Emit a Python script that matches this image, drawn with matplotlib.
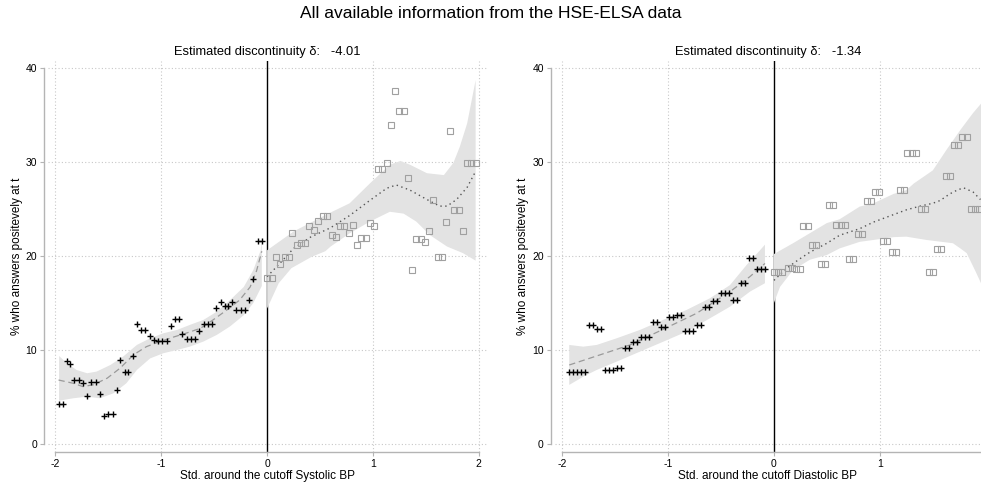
import matplotlib
matplotlib.use("Agg")
import matplotlib.pyplot as plt
import numpy as np

plt.rcParams['font.family'] = ['Liberation Sans', 'DejaVu Sans']

# ---- Systolic BP: binned shares below / above the cutoff
sys_x_below = [-1.97, -1.93, -1.89, -1.86, -1.82, -1.78, -1.74, -1.70, -1.66, -1.62,
               -1.58, -1.54, -1.50, -1.46, -1.42, -1.39, -1.34, -1.31, -1.27, -1.23,
               -1.19, -1.15, -1.11, -1.07, -1.03, -0.99, -0.95, -0.91, -0.87, -0.83,
               -0.80, -0.76, -0.72, -0.68, -0.64, -0.60, -0.56, -0.52, -0.48, -0.44,
               -0.40, -0.37, -0.33, -0.29, -0.25, -0.21, -0.17, -0.13, -0.09, -0.05]
sys_y_below = [4.3, 4.3, 8.8, 8.5, 6.8, 6.8, 6.5, 5.1, 6.6, 6.6,
               5.3, 3.0, 3.15, 3.15, 5.7, 8.9, 7.7, 7.7, 9.4, 12.8,
               12.1, 12.1, 11.5, 11.1, 11.0, 11.0, 11.0, 12.5, 13.3, 13.3,
               11.7, 11.2, 11.2, 11.2, 12.0, 12.8, 12.8, 12.8, 14.5, 15.1,
               14.7, 14.7, 15.1, 14.2, 14.2, 14.2, 15.3, 17.5, 21.6, 21.6]
sys_x_above = [0.00, 0.045, 0.08, 0.12, 0.17, 0.21, 0.24, 0.28, 0.32, 0.36,
               0.40, 0.445, 0.485, 0.53, 0.57, 0.61, 0.65, 0.69, 0.73, 0.77,
               0.81, 0.85, 0.89, 0.93, 0.97, 1.01, 1.05, 1.09, 1.13, 1.17,
               1.21, 1.25, 1.29, 1.33, 1.37, 1.41, 1.45, 1.49, 1.53, 1.57,
               1.61, 1.65, 1.69, 1.73, 1.77, 1.81, 1.85, 1.89, 1.93, 1.97]
sys_y_above = [17.6, 17.6, 19.9, 19.1, 19.9, 19.9, 22.4, 21.2, 21.4, 21.4,
               23.2, 22.8, 23.7, 24.2, 24.2, 22.2, 22.0, 23.2, 23.2, 22.4,
               23.3, 21.2, 21.9, 21.9, 23.5, 23.2, 29.2, 29.2, 29.9, 33.9,
               37.5, 35.4, 35.4, 28.3, 18.5, 21.8, 21.8, 21.45, 22.6, 26.0,
               19.9, 19.9, 23.65, 33.3, 24.9, 24.9, 22.7, 29.9, 29.9, 29.9]

# local polynomial fits and 95% bands (Systolic)
sys_fit_below_x = [-1.97, -1.83, -1.74, -1.64, -1.51, -1.39, -1.26, -1.14, -1.01, -0.89,
                   -0.76, -0.63, -0.51, -0.38, -0.26, -0.16, -0.10, -0.05]
sys_fit_below_y = [6.8, 6.45, 6.1, 6.3, 7.0, 8.05, 9.5, 10.35, 10.9, 11.35,
                   11.8, 12.3, 13.2, 14.25, 15.3, 16.7, 18.4, 20.5]
sys_hi_below_x = [-1.965, -1.89, -1.80, -1.70, -1.61, -1.48, -1.36, -1.23, -1.105, -0.98,
                  -0.85, -0.73, -0.60, -0.475, -0.35, -0.22, -0.13, -0.06, -0.05]
sys_hi_below_y = [9.36, 8.58, 7.87, 7.52, 7.7, 8.4, 9.29, 10.53, 11.24, 11.77,
                  12.13, 12.66, 13.2, 14.07, 15.3, 16.7, 18.5, 20.6, 21.8]
sys_lo_below_x = [-1.965, -1.83, -1.70, -1.58, -1.45, -1.33, -1.23, -1.105, -0.98, -0.85,
                  -0.73, -0.60, -0.475, -0.35, -0.22, -0.13, -0.05]
sys_lo_below_y = [4.6, 4.86, 5.03, 4.86, 5.39, 6.45, 7.87, 9.1, 9.65, 10.0,
                  10.35, 10.9, 11.6, 12.5, 13.7, 15.0, 16.8]

sys_fit_above_x = [0.0, 0.12, 0.25, 0.41, 0.60, 0.78, 0.97, 1.13, 1.22, 1.35,
                   1.51, 1.63, 1.70, 1.79, 1.89, 1.97]
sys_fit_above_y = [17.8, 19.2, 20.8, 22.0, 23.0, 24.3, 25.9, 27.2, 27.55, 27.0,
                   26.0, 25.3, 25.3, 26.0, 27.3, 29.0]
sys_hi_above_x = [0.0, 0.25, 0.56, 0.78, 0.97, 1.16, 1.26, 1.35, 1.51, 1.67,
                  1.76, 1.82, 1.89, 1.97]
sys_hi_above_y = [20.6, 22.6, 24.4, 25.6, 27.7, 29.7, 30.1, 29.7, 28.8, 28.6,
                  29.9, 31.6, 34.1, 38.7]
sys_lo_above_x = [0.0, 0.11, 0.23, 0.42, 0.55, 0.60, 0.78, 0.97, 1.16, 1.29,
                  1.41, 1.54, 1.70, 1.85, 1.97]
sys_lo_above_y = [14.4, 17.1, 18.7, 19.9, 20.5, 21.0, 22.4, 23.65, 24.7, 24.5,
                  23.65, 22.2, 21.0, 20.3, 19.5]

# ---- Diastolic BP
dia_x_below = [-1.933, -1.895, -1.857, -1.820, -1.782, -1.744, -1.706, -1.668, -1.631, -1.593,
               -1.555, -1.517, -1.480, -1.442, -1.404, -1.366, -1.328, -1.291, -1.253, -1.215,
               -1.177, -1.139, -1.102, -1.064, -1.026, -0.988, -0.950, -0.913, -0.875, -0.837,
               -0.799, -0.761, -0.723, -0.686, -0.648, -0.610, -0.572, -0.534, -0.497, -0.459,
               -0.421, -0.383, -0.345, -0.308, -0.270, -0.232, -0.194, -0.156, -0.119, -0.081]
dia_y_below = [7.7, 7.7, 7.7, 7.7, 7.7, 12.7, 12.7, 12.2, 12.2, 7.85,
               7.85, 7.85, 8.05, 8.05, 10.2, 10.2, 10.8, 10.8, 11.4, 11.4,
               11.4, 12.95, 12.95, 12.4, 12.4, 13.5, 13.5, 13.7, 13.7, 12.05,
               12.05, 12.05, 12.7, 12.7, 14.6, 14.6, 15.2, 15.2, 16.1, 16.1,
               16.1, 15.3, 15.3, 17.1, 17.1, 19.8, 19.8, 18.6, 18.6, 18.6]
dia_x_above = [0.00, 0.04, 0.08, 0.13, 0.167, 0.21, 0.245, 0.277, 0.318, 0.356,
               0.397, 0.44, 0.48, 0.52, 0.56, 0.59, 0.63, 0.67, 0.71, 0.75,
               0.79, 0.83, 0.875, 0.916, 0.95, 0.99, 1.03, 1.07, 1.11, 1.15,
               1.19, 1.23, 1.26, 1.30, 1.34, 1.39, 1.43, 1.46, 1.50, 1.54,
               1.58, 1.62, 1.66, 1.70, 1.74, 1.78, 1.82, 1.86, 1.90, 1.94]
dia_y_above = [18.27, 18.27, 18.27, 18.7, 18.7, 18.6, 18.6, 23.2, 23.2, 21.2,
               21.2, 19.1, 19.1, 25.4, 25.4, 23.3, 23.3, 23.3, 19.65, 19.65,
               22.3, 22.3, 25.8, 25.8, 26.8, 26.8, 21.6, 21.6, 20.4, 20.4,
               27.0, 27.0, 31.0, 31.0, 31.0, 25.0, 25.0, 18.3, 18.3, 20.7,
               20.7, 28.5, 28.5, 31.8, 31.8, 32.6, 32.6, 25.0, 25.0, 25.0]

dia_fit_below_x = [-1.933, -1.674, -1.36, -1.045, -0.73, -0.415, -0.227, -0.085]
dia_fit_below_y = [8.4, 9.36, 10.53, 12.2, 13.9, 16.2, 17.8, 19.2]
dia_hi_below_x = [-1.933, -1.80, -1.674, -1.485, -1.265, -1.045, -0.824, -0.604, -0.415,
                  -0.258, -0.132, -0.085]
dia_hi_below_y = [10.53, 10.35, 10.53, 11.24, 12.13, 13.2, 14.26, 15.5, 16.9,
                  19.04, 20.6, 21.2]
dia_lo_below_x = [-1.933, -1.80, -1.674, -1.485, -1.265, -1.045, -0.824, -0.604, -0.415,
                  -0.227, -0.085]
dia_lo_below_y = [6.28, 7.16, 7.87, 8.76, 9.82, 10.88, 11.95, 13.37, 14.6,
                  16.2, 17.1]

dia_fit_above_x = [0.0, 0.12, 0.245, 0.34, 0.50, 0.62, 0.81, 0.94, 1.13, 1.25,
                   1.38, 1.50, 1.57, 1.66, 1.73, 1.79, 1.88, 1.95]
dia_fit_above_y = [17.4, 18.7, 19.7, 20.4, 21.35, 22.2, 22.9, 23.6, 24.4, 24.9,
                   25.3, 25.6, 25.9, 26.6, 27.0, 27.25, 26.8, 26.0]
dia_hi_above_x = [0.0, 0.18, 0.50, 0.62, 0.81, 0.94, 1.13, 1.25, 1.32, 1.50,
                  1.63, 1.76, 1.88, 1.955]
dia_hi_above_y = [20.2, 21.35, 23.5, 23.9, 25.25, 25.6, 26.6, 27.0, 27.7, 29.1,
                  31.3, 33.4, 35.2, 36.2]
dia_lo_above_x = [0.0, 0.057, 0.18, 0.34, 0.50, 0.62, 0.81, 0.94, 1.13, 1.25,
                  1.44, 1.69, 1.76, 1.82, 1.91, 1.955]
dia_lo_above_y = [15.0, 16.7, 18.5, 19.6, 20.1, 20.8, 21.5, 21.7, 22.0, 22.05,
                  21.7, 21.35, 20.8, 20.3, 18.2, 17.1]

titles = ['Estimated discontinuity \u03b4:   -4.01', 'Estimated discontinuity \u03b4:   -1.34']
xlabels = ['Std. around the cutoff Systolic BP', 'Std. around the cutoff Diastolic BP']
ylabel = '% who answers positevely at t'
y_ticks = [0, 10, 20, 30, 40]

band_col = '#e3e3e3'
grid_col = '#c8c8c8'
spine_col = '#b4b4b4'


def band(ax, ux, uy, lx, ly):
    px = np.r_[ux, lx[::-1]]
    py = np.r_[uy, ly[::-1]]
    ax.fill(px, py, color=band_col, lw=0, zorder=2)


def panel(ax, below, above, fits, bands, xlim, xticks, xmax, title, xlabel):
    ax.set_xlim(*xlim)
    ax.set_ylim(-0.85, 40.75)
    for t in xticks:
        if t != 0:
            ax.axvline(t, color=grid_col, ls=(0, (1, 2)), lw=0.8, zorder=0)
    for t in y_ticks:
        ax.axhline(t, color=grid_col, ls=(0, (1, 2)), lw=0.8, zorder=0)
    ax.axvline(0, color='black', lw=1.0, zorder=1)

    for b in bands:
        band(ax, *b)
    (fbx, fby), (fax, fay) = fits
    ax.plot(fbx, fby, color='#9a9a9a', lw=0.9, dashes=(5, 3), zorder=3)
    ax.plot(fax, fay, color='#555555', lw=1.0, dashes=(1, 2.5), zorder=3)

    ax.plot(below[0], below[1], ls='none', marker='+', color='black',
            ms=5, mew=1.0, zorder=4)
    ax.plot(above[0], above[1], ls='none', marker='s', mfc='none', mec='#a0a0a0',
            ms=4.3, mew=0.8, zorder=4)

    ax.set_xticks(xticks)
    ax.set_xticklabels([str(t) for t in xticks])
    ax.set_yticks(y_ticks)
    ax.tick_params(labelsize=7.5, length=3, color=spine_col, pad=2)
    ax.spines['top'].set_visible(False)
    ax.spines['right'].set_visible(False)
    ax.spines['left'].set_position(('outward', 3))
    ax.spines['left'].set_bounds(0, 40)
    ax.spines['bottom'].set_bounds(-2, xmax)
    for s in ('left', 'bottom'):
        ax.spines[s].set_color(spine_col)
        ax.spines[s].set_linewidth(1.0)
    ax.set_title(title, fontsize=9.3, pad=4)
    ax.set_xlabel(xlabel, fontsize=8.5, labelpad=1)
    ax.set_ylabel(ylabel, fontsize=8.5, labelpad=2)


fig = plt.figure(figsize=(9.81, 4.87), dpi=100)
fig.suptitle('All available information from the HSE-ELSA data', fontsize=12.5, y=0.988)

ax1 = fig.add_axes([0.049, 0.072, 0.4475, 0.803])
panel(ax1, (sys_x_below, sys_y_below), (sys_x_above, sys_y_above),
      [(sys_fit_below_x, sys_fit_below_y), (sys_fit_above_x, sys_fit_above_y)],
      [(sys_hi_below_x, sys_hi_below_y, sys_lo_below_x, sys_lo_below_y),
       (sys_hi_above_x, sys_hi_above_y, sys_lo_above_x, sys_lo_above_y)],
      (-2.069, 2.078), [-2, -1, 0, 1, 2], 2, titles[0], xlabels[0])

ax2 = fig.add_axes([0.5657, 0.072, 0.4343, 0.803])
panel(ax2, (dia_x_below, dia_y_below), (dia_x_above, dia_y_above),
      [(dia_fit_below_x, dia_fit_below_y), (dia_fit_above_x, dia_fit_above_y)],
      [(dia_hi_below_x, dia_hi_below_y, dia_lo_below_x, dia_lo_below_y),
       (dia_hi_above_x, dia_hi_above_y, dia_lo_above_x, dia_lo_above_y)],
      (-2.068, 1.955), [-2, -1, 0, 1], 1.955, titles[1], xlabels[1])

fig.savefig('out.png', dpi=100)
